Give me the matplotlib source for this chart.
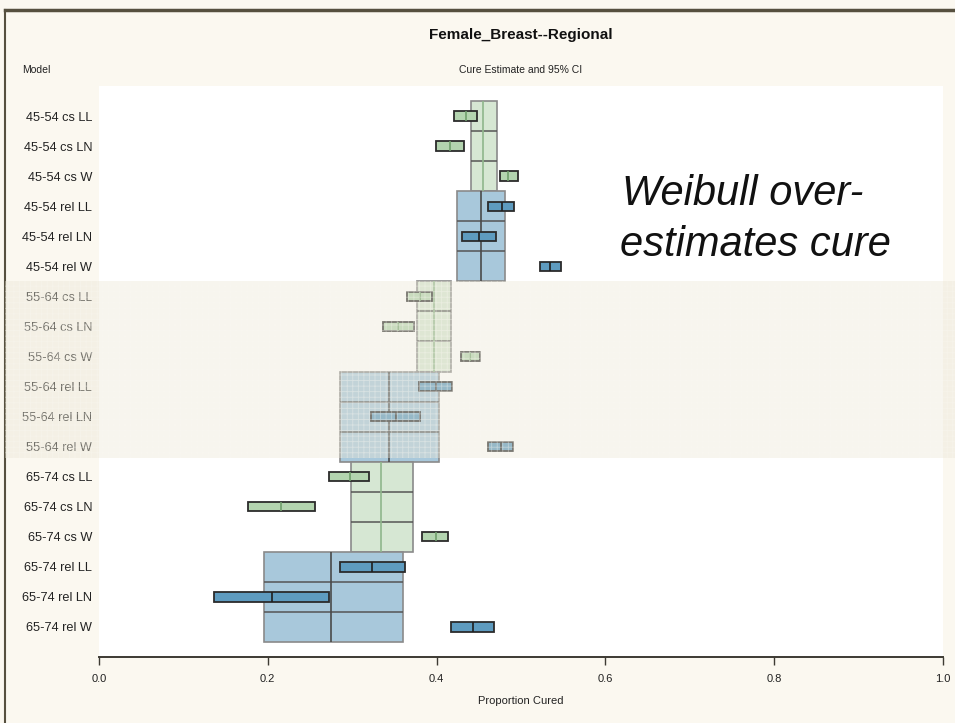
import matplotlib
matplotlib.use("Agg")
import matplotlib.pyplot as plt
import matplotlib.transforms as mtransforms
from matplotlib.patches import Rectangle
from matplotlib.lines import Line2D

# Model rows, top to bottom
models = ['45-54 cs LL', '45-54 cs LN', '45-54 cs W',
          '45-54 rel LL', '45-54 rel LN', '45-54 rel W',
          '55-64 cs LL', '55-64 cs LN', '55-64 cs W',
          '55-64 rel LL', '55-64 rel LN', '55-64 rel W',
          '65-74 cs LL', '65-74 cs LN', '65-74 cs W',
          '65-74 rel LL', '65-74 rel LN', '65-74 rel W']

# Cure estimate and 95% CI per model
est = [0.435, 0.416, 0.485, 0.477, 0.450, 0.534,
       0.380, 0.354, 0.440, 0.399, 0.352, 0.476,
       0.297, 0.216, 0.399, 0.324, 0.205, 0.443]
lo = [0.421, 0.399, 0.475, 0.461, 0.430, 0.522,
      0.365, 0.336, 0.429, 0.379, 0.322, 0.461,
      0.272, 0.176, 0.383, 0.285, 0.136, 0.417]
hi = [0.448, 0.433, 0.496, 0.492, 0.470, 0.547,
      0.395, 0.373, 0.451, 0.418, 0.380, 0.491,
      0.320, 0.256, 0.414, 0.363, 0.273, 0.468]

# Group boxes (cs / rel for each age band), each spanning 3 model rows
grp_start = [0, 3, 6, 9, 12, 15]
grp_est = [0.455, 0.453, 0.397, 0.344, 0.334, 0.275]
grp_lo = [0.441, 0.424, 0.377, 0.286, 0.299, 0.195]
grp_hi = [0.471, 0.481, 0.417, 0.403, 0.372, 0.360]
grp_kind = ['cs', 'rel', 'cs', 'rel', 'cs', 'rel']

xticks = [0.0, 0.2, 0.4, 0.6, 0.8, 1.0]

W, H = 955, 723
bg = '#fbf8f0'
box_fill = {'cs': '#d6e7d3', 'rel': '#a8c8db'}
bar_fill = {'cs': '#b3d4af', 'rel': '#5e9bbf'}
box_med = {'cs': '#8fb68b', 'rel': '#4a4a4a'}
bar_med = {'cs': '#6f9e6b', 'rel': '#1f1f1f'}

plt.rcParams['font.family'] = ['Liberation Sans', 'DejaVu Sans']
plt.rcParams['hatch.linewidth'] = 0.6

fig = plt.figure(figsize=(W / 100, H / 100), dpi=100, facecolor=bg)
ax = fig.add_axes([99 / W, 1 - 657 / H, (943 - 99) / W, (657 - 86) / H])
ax.set_facecolor('white')

# group boxes
for s, m, l, h, k in zip(grp_start, grp_est, grp_lo, grp_hi, grp_kind):
    ax.barh(s + 1, h - l, left=l, height=3, color=box_fill[k],
            edgecolor='#8a8a8a', linewidth=1.2, zorder=2)
    ax.hlines([s + 0.5, s + 1.5], l, h, color='#555555', linewidth=1.1, zorder=3)
    ax.vlines(m, s - 0.5, s + 2.5, color=box_med[k], linewidth=1.2, zorder=3)

# individual model estimates
for i, (m, l, h) in enumerate(zip(est, lo, hi)):
    k = 'rel' if 'rel' in models[i] else 'cs'
    ax.barh(i, h - l, left=l, height=0.31, color=bar_fill[k],
            edgecolor='#2b2b2b', linewidth=1.3, zorder=4)
    ax.vlines(m, i - 0.155, i + 0.155, color=bar_med[k], linewidth=1.2, zorder=5)

ax.set_xlim(0, 1)
ax.set_ylim(18.0, -1.0)
ax.set_yticks(range(len(models)))
ax.set_yticklabels(models, fontsize=9.2, color='#222222')
ax.tick_params(axis='y', length=0, pad=5)
ax.set_xticks(xticks)
ax.set_xticklabels(['%.1f' % t for t in xticks], fontsize=8, color='#222222')
ax.tick_params(axis='x', direction='out', length=6, width=1, color='#3d3a33', pad=6)
for sp in ['left', 'top', 'right']:
    ax.spines[sp].set_visible(False)
ax.spines['bottom'].set_color('#3d3a33')
ax.spines['bottom'].set_linewidth(1.4)
ax.set_xlabel('Proportion Cured', fontsize=8, color='#222222', labelpad=9)

# shaded band over the 55-64 rows, across the full width
trans = mtransforms.blended_transform_factory(fig.transFigure, ax.transData)
band = Rectangle((5 / W, 5.5), 1 - 5 / W, 5.89, transform=trans,
                 facecolor='#ebe6d5', alpha=0.4, hatch='+++',
                 edgecolor='#faf8f2', linewidth=0, zorder=5)
fig.add_artist(band)

# frame lines
fig.add_artist(Line2D([5 / W, 1], [1 - 10 / H, 1 - 10 / H], color='#56503f', linewidth=2.5))
fig.add_artist(Line2D([5 / W, 5 / W], [0, 1 - 10 / H], color='#56503f', linewidth=1.5))

# titles
fig.text(521 / W, 1 - 35 / H, 'Female_Breast--Regional', ha='center', va='center',
         fontsize=11, fontweight='bold', color='#111111')
fig.text(22 / W, 1 - 70 / H, 'Model', ha='left', va='center', fontsize=7.5, color='#222222')
fig.text(521 / W, 1 - 70 / H, 'Cure Estimate and 95% CI', ha='center', va='center',
         fontsize=7.5, color='#222222')

# annotation
fig.text(622 / W, 1 - 205 / H, 'Weibull over-', ha='left', va='baseline',
         fontsize=30, style='italic', color='#111111')
fig.text(620 / W, 1 - 256 / H, 'estimates cure', ha='left', va='baseline',
         fontsize=30, style='italic', color='#111111')

fig.savefig('out.png', dpi=100, facecolor=bg)
